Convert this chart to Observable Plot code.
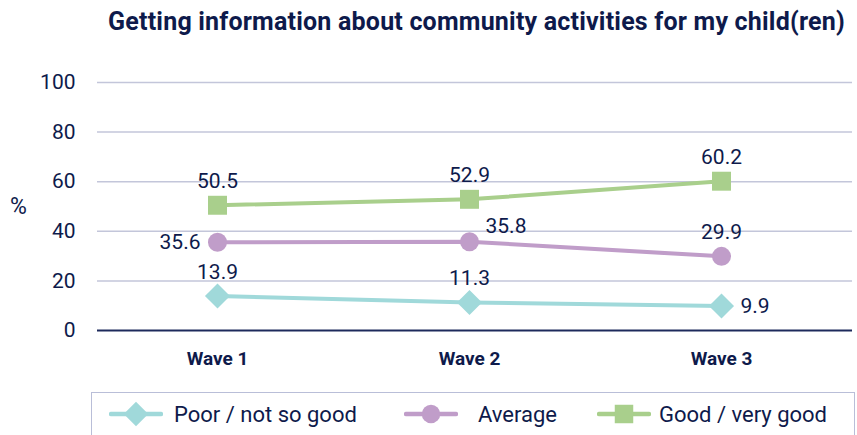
<!DOCTYPE html>
<html><head><meta charset="utf-8">
<script src="https://cdn.jsdelivr.net/npm/d3@7"></script>
<script src="https://cdn.jsdelivr.net/npm/@observablehq/plot@0.6"></script>
<style>
html,body{margin:0;padding:0;background:#fff}
body{width:857px;height:435px;overflow:hidden;position:relative;font-family:Roboto,"Noto Sans",sans-serif;color:#0e1a4b}
#title{position:absolute;left:96px;right:0;top:7px;text-align:center;font-size:25px;font-weight:700;line-height:30px;letter-spacing:0.2px;white-space:nowrap}
#chart{position:absolute;left:0;top:45px}
#legend{position:absolute;left:91px;top:392px;width:764px;height:60px;border:1.5px solid #b9bed8;box-sizing:border-box}
.item{position:absolute;top:7px;display:flex;align-items:center;font-size:22px;height:28px}
</style></head>
<body>
<div id="title">Getting information about community activities for my child(ren)</div>
<div id="chart"></div>
<div id="legend"></div>
<script>
const waves = ["Wave 1", "Wave 2", "Wave 3"];
const series = ["Poor / not so good", "Average", "Good / very good"];
const poor = [13.9, 11.3, 9.9];
const average = [35.6, 35.8, 29.9];
const good = [50.5, 52.9, 60.2];
const yTicks = [0, 20, 40, 60, 80, 100];
const yLabel = "%";

const colors = ["#a0d9da", "#c09dc9", "#a9cf8c"];
const symbols = ["diamond2", "circle", "square"];
const radii = [11.3, 9.5, 10.7];
const navy = "#0e1a4b";

const data = [];
[poor, average, good].forEach((vals, i) => {
  waves.forEach((w, j) => data.push({series: series[i], wave: w, value: vals[j]}));
});

const isAt = (s, w) => d => d.series === series[s] && d.wave === waves[w];
const leftOf = isAt(1, 0), upRight = isAt(1, 1), rightOf = isAt(0, 2);
const above = d => !leftOf(d) && !upRight(d) && !rightOf(d);
const fmt = d => d.value.toFixed(1);

const plot = Plot.plot({
  width: 857,
  height: 340,
  marginLeft: 97,
  marginRight: 5,
  marginTop: 37,
  marginBottom: 55,
  style: {color: navy, fontFamily: "Roboto, sans-serif", background: "transparent"},
  x: {type: "point", domain: waves, range: [217, 721], padding: 0},
  y: {domain: [0, 100]},
  color: {domain: series, range: colors},
  symbol: {domain: series, range: symbols},
  marks: [
    Plot.ruleY(yTicks.filter(t => t > 0), {stroke: "#c3c6da", strokeWidth: 1.5}),
    Plot.ruleY([0], {stroke: "#1d2a5c", strokeWidth: 2}),
    Plot.axisY({ticks: yTicks, tickSize: 0, tickPadding: 22, fontSize: 21, label: null, fill: navy}),
    Plot.axisX({tickSize: 0, tickPadding: 21, fontSize: 19, fontWeight: "bold", label: null, fill: navy}),
    Plot.text([yLabel], {text: d => d, frameAnchor: "left", textAnchor: "middle", dx: -79, fontSize: 23, fill: navy}),
    Plot.line(data, {x: "wave", y: "value", z: "series", stroke: "series", strokeWidth: 4}),
    ...series.map((s, i) => Plot.dot(data, {filter: d => d.series === s, x: "wave", y: "value", fill: "series", symbol: "series", r: radii[i], stroke: "none"})),
    Plot.text(data, {filter: above, x: "wave", y: "value", text: fmt, dy: -24, fontSize: 21, fill: navy}),
    Plot.text(data, {filter: leftOf, x: "wave", y: "value", text: fmt, dx: -17, textAnchor: "end", fontSize: 21, fill: navy}),
    Plot.text(data, {filter: upRight, x: "wave", y: "value", text: fmt, dx: 16, dy: -15, textAnchor: "start", fontSize: 21, fill: navy}),
    Plot.text(data, {filter: rightOf, x: "wave", y: "value", text: fmt, dx: 19, textAnchor: "start", fontSize: 21, fill: navy})
  ]
});
document.getElementById("chart").appendChild(plot);

// Legend
const legend = document.getElementById("legend");
const lefts = [17, 312, 505];
const gaps = [11, 20, 8];
series.forEach((s, i) => {
  const item = document.createElement("div");
  item.className = "item";
  item.style.left = lefts[i] + "px";
  const sym = d3.symbol(d3[{diamond2: "symbolDiamond2", circle: "symbolCircle", square: "symbolSquare"}[symbols[i]]], Math.PI * radii[i] * radii[i] * 0.95)();
  item.innerHTML = `<svg width="54" height="28" viewBox="-27 -14 54 28" style="margin-right:${gaps[i]}px"><line x1="-25" x2="25" stroke="${colors[i]}" stroke-width="4.5" stroke-linecap="round"/><path d="${sym}" fill="${colors[i]}"/></svg><span>${s}</span>`;
  legend.appendChild(item);
});
</script>
</body></html>
